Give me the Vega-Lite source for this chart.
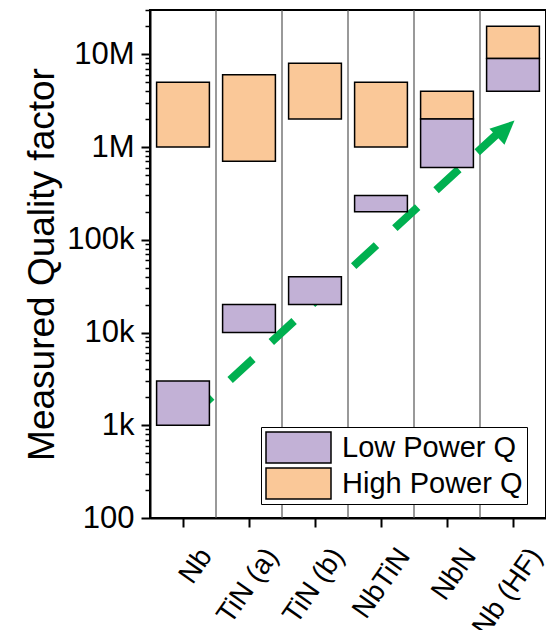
{
  "$schema": "https://vega.github.io/schema/vega-lite/v6.json",
  "autosize": {"type": "none"},
  "padding": {"left": 150, "top": 10, "right": 0, "bottom": 112},
  "width": 396,
  "height": 508,
  "config": {
    "font": "Liberation Sans",
    "view": {"stroke": "black", "strokeWidth": 2}
  },
  "datasets": {
    "bars": [
      {"material": "Nb", "type": "High Power Q", "lo": 1000000, "hi": 5000000},
      {"material": "TiN (a)", "type": "High Power Q", "lo": 700000, "hi": 6000000},
      {"material": "TiN (b)", "type": "High Power Q", "lo": 2000000, "hi": 8000000},
      {"material": "NbTiN", "type": "High Power Q", "lo": 1000000, "hi": 5000000},
      {"material": "NbN", "type": "High Power Q", "lo": 2000000, "hi": 4000000},
      {"material": "Nb (HF)", "type": "High Power Q", "lo": 9000000, "hi": 20000000},
      {"material": "Nb", "type": "Low Power Q", "lo": 1000, "hi": 3000},
      {"material": "TiN (a)", "type": "Low Power Q", "lo": 10000, "hi": 20000},
      {"material": "TiN (b)", "type": "Low Power Q", "lo": 20000, "hi": 40000},
      {"material": "NbTiN", "type": "Low Power Q", "lo": 200000, "hi": 300000},
      {"material": "NbN", "type": "Low Power Q", "lo": 600000, "hi": 2000000},
      {"material": "Nb (HF)", "type": "Low Power Q", "lo": 4000000, "hi": 9000000}
    ],
    "separators": [
      {"material": "TiN (a)"},
      {"material": "TiN (b)"},
      {"material": "NbTiN"},
      {"material": "NbN"},
      {"material": "Nb (HF)"}
    ],
    "arrow": [
      {"pos": 0.59, "q": 1200},
      {"pos": 5.30, "q": 1470000}
    ],
    "arrowhead": [
      {"pos": 5.39, "q": 1580000}
    ]
  },
  "layer": [
    {
      "data": {"name": "separators"},
      "mark": {"type": "rule", "color": "#555555", "strokeWidth": 1.2},
      "encoding": {
        "x": {
          "field": "material", "type": "nominal", "bandPosition": 0,
          "scale": {"type": "band", "domain": ["Nb", "TiN (a)", "TiN (b)", "NbTiN", "NbN", "Nb (HF)"], "paddingInner": 0, "paddingOuter": 0},
          "axis": null
        }
      }
    },
    {
      "data": {"name": "arrow"},
      "mark": {"type": "line", "color": "#00B050", "strokeWidth": 8, "strokeDash": [31, 25], "strokeCap": "butt"},
      "encoding": {
        "x": {"field": "pos", "type": "quantitative", "scale": {"domain": [0, 6], "nice": false, "zero": false}, "axis": null},
        "y": {
          "field": "q", "type": "quantitative",
          "scale": {"type": "log", "domain": [100, 30000000], "nice": false},
          "axis": {
            "orient": "left", "title": null, "labels": false, "domain": false, "grid": false,
            "tickSize": 5, "tickWidth": 1.5, "tickColor": "black",
            "values": [200, 300, 400, 500, 600, 700, 800, 900, 2000, 3000, 4000, 5000, 6000, 7000, 8000, 9000, 20000, 30000, 40000, 50000, 60000, 70000, 80000, 90000, 200000, 300000, 400000, 500000, 600000, 700000, 800000, 900000, 2000000, 3000000, 4000000, 5000000, 6000000, 7000000, 8000000, 9000000, 20000000, 30000000]
          }
        }
      }
    },
    {
      "data": {"name": "arrowhead"},
      "mark": {"type": "point", "shape": "M0,-1L0.92,1L-0.92,1Z", "size": 576, "angle": 47, "filled": true, "color": "#00B050", "opacity": 1},
      "encoding": {
        "x": {"field": "pos", "type": "quantitative", "scale": {"domain": [0, 6], "nice": false, "zero": false}, "axis": null},
        "y": {"field": "q", "type": "quantitative", "scale": {"type": "log"}, "axis": null}
      }
    },
    {
      "data": {"name": "bars"},
      "mark": {"type": "bar", "width": {"band": 0.8}, "stroke": "black", "strokeWidth": 1.5},
      "encoding": {
        "x": {
          "field": "material", "type": "nominal", "sort": null,
          "scale": {"type": "band", "domain": ["Nb", "TiN (a)", "TiN (b)", "NbTiN", "NbN", "Nb (HF)"], "paddingInner": 0, "paddingOuter": 0},
          "axis": {
            "title": null, "labelAngle": -55, "labelAlign": "right", "labelBaseline": "top",
            "labelOffset": 12, "labelPadding": 16, "labelFontSize": 28, "labelColor": "black",
            "tickSize": 9, "tickWidth": 2, "tickColor": "black",
            "domainWidth": 2, "domainColor": "black", "grid": false, "labelOverlap": false
          }
        },
        "y": {
          "field": "lo", "type": "quantitative",
          "scale": {"type": "log", "domain": [100, 30000000], "nice": false},
          "axis": {
            "orient": "left",
            "title": "Measured Quality factor", "titleFontSize": 37, "titleFontWeight": "normal", "titleColor": "black", "titlePadding": 5,
            "values": [100, 1000, 10000, 100000, 1000000, 10000000],
            "labelExpr": "datum.value == 100 ? '100' : datum.value == 1000 ? '1k' : datum.value == 10000 ? '10k' : datum.value == 100000 ? '100k' : datum.value == 1000000 ? '1M' : '10M'",
            "labelFontSize": 31, "labelColor": "black", "labelPadding": 7, "labelOverlap": false, "labelFlush": false,
            "tickSize": 9, "tickWidth": 2, "tickColor": "black",
            "domainWidth": 2, "domainColor": "black", "grid": false
          }
        },
        "y2": {"field": "hi"},
        "color": {
          "field": "type", "type": "nominal",
          "scale": {"domain": ["Low Power Q", "High Power Q"], "range": ["#C2B1D6", "#FAC898"]},
          "legend": {
            "title": null, "orient": "none", "legendX": 111, "legendY": 417,
            "symbolType": "M-1,-0.48H1V0.48H-1Z", "symbolSize": 4225,
            "symbolStrokeColor": "black", "symbolStrokeWidth": 1.5, "symbolOpacity": 1,
            "labelFontSize": 29, "labelColor": "black", "labelOffset": 10, "labelLimit": 400,
            "clipHeight": 33, "rowPadding": 3, "padding": 4, "strokeColor": "black", "fillColor": "white"
          }
        }
      }
    }
  ],
  "resolve": {"scale": {"x": "independent"}, "axis": {"y": "independent"}}
}
